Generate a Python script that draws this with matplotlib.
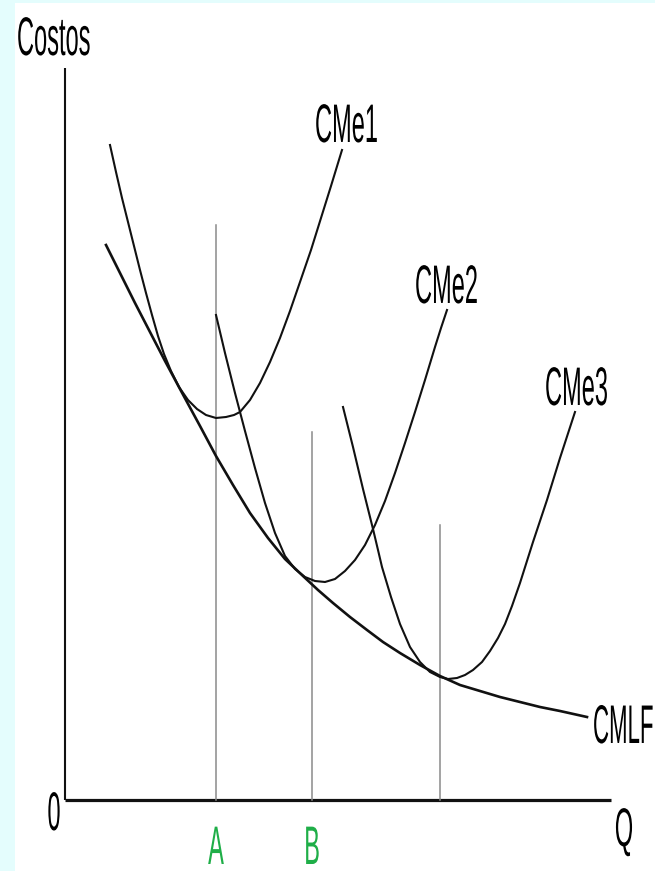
import matplotlib
matplotlib.use("Agg")
import matplotlib.pyplot as plt
from matplotlib.patches import Rectangle
from matplotlib.patheffects import AbstractPathEffect
from matplotlib.transforms import Affine2D

# curvas de costo medio de corto plazo (Q, costo)
cme1_q = [45, 51, 57, 63, 69, 75, 81, 87, 93, 99, 106, 114, 123, 132, 141, 151, 161, 169,
          175, 185, 195, 205, 215, 225, 235, 246, 256, 266, 277]
cme1_c = [655, 628, 602, 578, 554, 530, 507, 485, 464, 446, 429, 413, 400, 391, 385, 382, 383, 385,
          388, 400, 417, 438, 462, 489, 518, 550, 582, 614, 650]

cme2_q = [151, 160, 170, 180, 190, 200, 210, 220, 230, 240, 250, 260, 270, 280, 290, 300, 310,
          320, 330, 340, 350, 360, 370, 376, 382]
cme2_c = [485, 447, 407, 369, 332, 297, 267, 244, 231, 223, 219, 218, 221, 229, 240, 255, 275,
          299, 327, 357, 388, 420, 453, 472, 490]

cme3_q = [278, 283, 288, 293, 298, 303, 308, 313, 317, 326, 335, 345, 355, 365, 375, 383, 392, 400,
          408, 417, 425, 433, 440, 447, 455, 468, 482, 495, 510]
cme3_c = [393, 373, 353, 332, 311, 291, 271, 250, 233, 203, 176, 153, 138, 128, 123, 121, 122, 125,
          130, 138, 149, 162, 176, 194, 217, 258, 300, 342, 388]

# curva de costo medio de largo plazo (envolvente)
cmlp_q = [41, 55, 70, 85, 100, 115, 122, 135, 151, 168, 185, 203, 220, 238, 253, 268, 285, 302,
          318, 335, 355, 375, 395, 415, 435, 455, 475, 495, 522]
cmlp_c = [555, 527, 497, 468, 439, 411, 398, 374, 344, 315, 287, 262, 241, 224, 210, 197, 183, 170,
          158, 147, 135, 124, 115, 109, 103, 98, 93, 89, 83]

# niveles de producción marcados y altura de sus guías
guia_q = [151, 247, 375]
guia_top = [575, 368, 275]
guia_lbl = ["A", "B", ""]


class TallText(AbstractPathEffect):
    # estira el texto verticalmente (fuente angosta y alta como en el original)
    def __init__(self, sy):
        super().__init__()
        self.sy = sy

    def draw_path(self, renderer, gc, tpath, affine, rgbFace=None):
        x0, y0 = affine.transform((0, 0))
        st = Affine2D().translate(-x0, -y0).scale(1, self.sy).translate(x0, y0)
        renderer.draw_path(gc, tpath, affine + st, rgbFace)


FONT = ["Liberation Sans", "DejaVu Sans"]

fig = plt.figure(figsize=(6.55, 8.71), dpi=100, facecolor="#e4fdfd")
fig.patches.append(Rectangle((15 / 655, 0), 640 / 655, 868 / 871, transform=fig.transFigure,
                             facecolor="white", edgecolor="none", zorder=-5))

ax = fig.add_axes([0, 0, 1, 1])
ax.set_facecolor("none")
ax.set_xlim(-65, 590)
ax.set_ylim(-71, 800)
ax.axis("off")

# ejes
ax.plot([0, 0], [0, 732], color="#111111", lw=1.5, solid_capstyle="butt")
ax.plot([0, 546], [0, 0], color="#111111", lw=2.3, solid_capstyle="butt")

# guias verticales
for q, top in zip(guia_q, guia_top):
    ax.plot([q, q], [0, top], color="#8a8a8a", lw=1.1)

ax.plot(cme1_q, cme1_c, color="#111111", lw=1.5)
ax.plot(cme2_q, cme2_c, color="#111111", lw=1.5)
ax.plot(cme3_q, cme3_c, color="#111111", lw=1.5)
ax.plot(cmlp_q, cmlp_c, color="#111111", lw=1.9)

# textos
kw = dict(family=FONT, fontsize=17, va="baseline", path_effects=[TallText(2.3)])
ax.text(-48, 745, "Costos", ha="left", **kw)
ax.text(250, 658, "CMe1", ha="left", **kw)
ax.text(350, 497, "CMe2", ha="left", **kw)
ax.text(480, 395, "CMe3", ha="left", **kw)
ax.text(528, 57, "CMLF", ha="left", family=FONT, fontsize=16, va="baseline",
        path_effects=[TallText(2.45)])
ax.text(-11, -30, "0", ha="center", **kw)
ax.text(559, -46, "Q", ha="center", **kw)
for q, lbl in zip(guia_q, guia_lbl):
    if lbl:
        ax.text(q, -64, lbl, ha="center", color="#1fae48", **kw)

fig.savefig("out.png", dpi=100, facecolor=fig.get_facecolor())
